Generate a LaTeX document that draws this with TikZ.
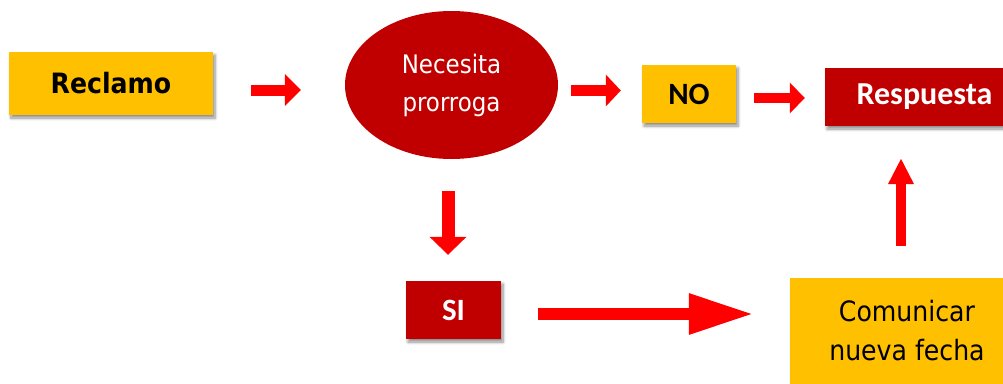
\documentclass[tikz,border=0pt]{standalone}
\usepackage{fontspec}
\setmainfont{DejaVu Sans Condensed}
\newfontfamily\calib{Carlito}
\usetikzlibrary{arrows.meta,shadows,shadows.blur,shapes.geometric}
\definecolor{yel}{HTML}{FFC000}
\definecolor{dred}{HTML}{C00000}
\definecolor{ared}{HTML}{FF0000}
\tikzset{
  shad/.style={blur shadow={shadow xshift=2pt,shadow yshift=-3pt,shadow opacity=45,shadow blur steps=6,shadow blur radius=3pt}},
  ybox/.style={rectangle,fill=yel,inner sep=0pt,shad},
  rbox/.style={rectangle,fill=dred,text=white,inner sep=0pt,shad},
  arr/.style={draw=ared,line width=#1},
}
\begin{document}
\begin{tikzpicture}[x=1pt,y=-1pt]
\useasboundingbox (0,0) rectangle (1003,383);
\clip (0,0) rectangle (1003,383);
\node[ybox,minimum width=204pt,minimum height=63pt,font=\fontsize{28}{30}\selectfont\bfseries] (rec) at (111,83.5) {Reclamo};
\node[ellipse,fill=dred,text=white,minimum width=213pt,minimum height=148pt,inner sep=0pt,align=center,font=\fontsize{25.5}{38}\selectfont] (nec) at (451.5,85) {Necesita\\prorroga};
\node[ybox,minimum width=94pt,minimum height=58pt,font=\fontsize{31}{33}\selectfont\calib\bfseries] (no) at (689,94) {NO};
\node[rbox,minimum width=199pt,minimum height=58pt,font=\fontsize{32}{33}\selectfont\calib\bfseries] (resp) at (924.5,97) {Respuesta};
\node[rbox,minimum width=95pt,minimum height=58pt,font=\fontsize{31}{33}\selectfont\calib\bfseries] (si) at (453.5,310) {SI};
\node[ybox,minimum width=234pt,minimum height=106pt,align=center,font=\fontsize{28}{39}\selectfont] (com) at (907,331) {Comunicar\\nueva fecha};
\draw[arr=11pt,-{Triangle[length=16pt,width=31pt]}] ([xshift=38pt,yshift=-6.5pt]rec.east) -- ([xshift=-44pt,yshift=-5pt]nec.west);
\draw[arr=11pt,-{Triangle[length=15pt,width=31pt]}] ([xshift=13pt,yshift=-5.5pt]nec.east) -- ([xshift=-21pt,yshift=3.5pt]no.west);
\draw[arr=10pt,-{Triangle[length=15pt,width=30pt]}] ([xshift=18pt,yshift=-4pt]no.east) -- ([xshift=-20pt,yshift=-1pt]resp.west);
\draw[arr=13pt,-{Triangle[length=18pt,width=36pt]}] ([xshift=-3.5pt,yshift=-32pt]nec.south) -- ([xshift=-5.5pt,yshift=26pt]si.north);
\draw[arr=12pt,-{Triangle[length=65pt,width=38pt]}] ([xshift=37pt,yshift=-4pt]si.east) -- ([xshift=-36pt,yshift=17pt]com.west);
\draw[arr=10pt,-{Triangle[length=26pt,width=24pt]}] ([xshift=-6pt,yshift=32pt]com.north) -- ([xshift=-23.5pt,yshift=-32pt]resp.south);
\end{tikzpicture}
\end{document}
